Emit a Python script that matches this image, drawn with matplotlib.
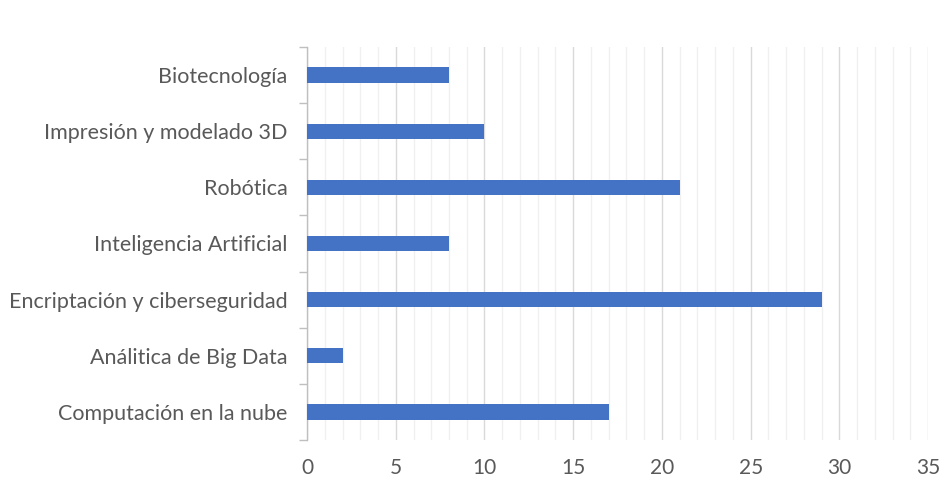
import matplotlib
matplotlib.use("Agg")
import matplotlib.pyplot as plt
import numpy as np

categories = [
    "Computación en la nube",
    "Análitica de Big Data",
    "Encriptación y ciberseguridad",
    "Inteligencia Artificial",
    "Robótica",
    "Impresión y modelado 3D",
    "Biotecnología",
]
values = [17, 2, 29, 8, 21, 10, 8]
x_ticks = [0, 5, 10, 15, 20, 25, 30, 35]

plt.rcParams['font.family'] = ['Lato', 'DejaVu Sans']

fig = plt.figure(figsize=(9.52, 4.83), dpi=100)
ax = fig.add_axes([0.3225, 0.089, 0.6525, 0.814])

y = np.arange(len(categories))
ax.barh(y, values, height=0.27, color="#4472C4", zorder=3)

ax.set_xlim(0, 35)
ax.set_ylim(-0.5, len(categories) - 0.5)

ax.set_xticks(x_ticks)
ax.set_xticks(np.arange(0, 36, 1), minor=True)
ax.xaxis.grid(True, which="major", color="#D9D9D9", linewidth=1.0, zorder=0)
ax.xaxis.grid(True, which="minor", color="#F0F0F0", linewidth=1.0, zorder=0)
ax.tick_params(axis="x", which="both", length=0, pad=13, labelsize=15, labelcolor="#595959")

ax.set_yticks(y)
ax.set_yticklabels(categories)
ax.set_yticks(np.arange(-0.5, len(categories), 1), minor=True)
ax.tick_params(axis="y", which="major", length=0, pad=14, labelsize=15.5, labelcolor="#595959")
ax.tick_params(axis="y", which="minor", length=6, width=1, color="#BFBFBF")

for side in ["top", "right", "bottom"]:
    ax.spines[side].set_visible(False)
ax.spines["left"].set_color("#BFBFBF")
ax.spines["left"].set_linewidth(1)

fig.savefig("out.png", dpi=100)
